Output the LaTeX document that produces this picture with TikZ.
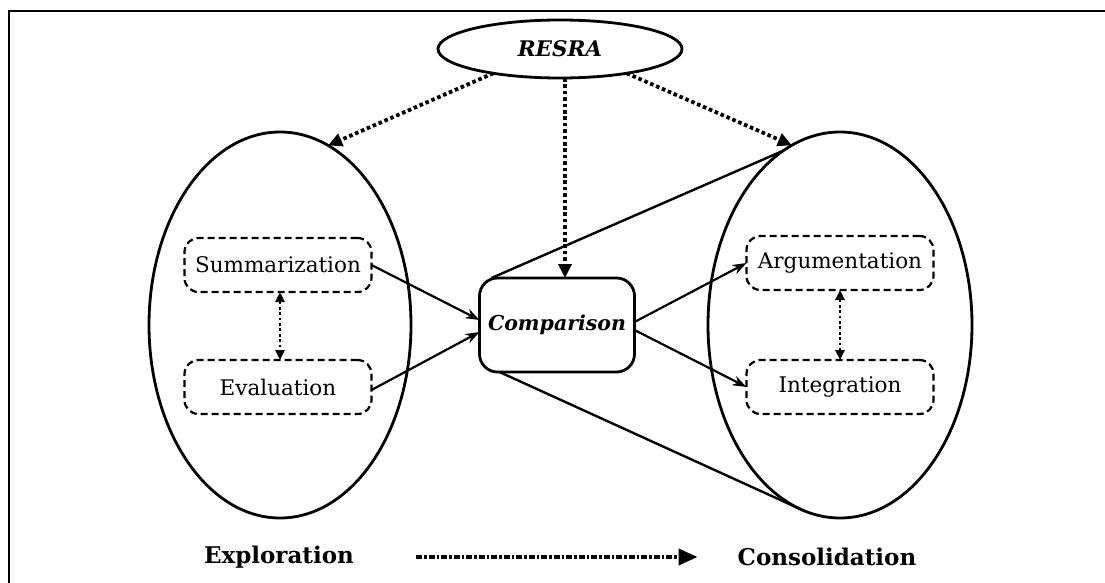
\documentclass[tikz,border=0pt]{standalone}
\usepackage{fontspec}
\setmainfont{DejaVu Serif}
\usetikzlibrary{arrows.meta,shapes.geometric}
\begin{document}
\begin{tikzpicture}[x=1pt,y=-1pt,
  bigell/.style={draw,line width=2.8pt,ellipse,minimum width=262pt,minimum height=386pt,inner sep=0pt,outer sep=0pt},
  topell/.style={draw,line width=2.8pt,ellipse,minimum width=244pt,minimum height=58pt,inner sep=0pt,outer sep=0pt,font=\fontsize{21.5}{24}\selectfont\bfseries\itshape},
  subbox/.style={draw,dash pattern=on 7pt off 4pt,line width=2.2pt,rounded corners=14pt,minimum width=187pt,minimum height=54pt,inner sep=0pt,outer sep=0pt,font=\fontsize{21.5}{24}\selectfont},
  cmpbox/.style={draw,line width=2.8pt,rounded corners=18pt,minimum width=155pt,minimum height=94pt,inner sep=0pt,outer sep=0pt,font=\fontsize{20.5}{24}\selectfont\bfseries\itshape},
  lbl/.style={inner sep=0pt,font=\fontsize{23}{26}\selectfont\bfseries},
  solidarr/.style={line width=2.2pt,-{Stealth[length=14pt,width=10pt]}},
  dotarr/.style={line width=3.8pt,dash pattern=on 3.6pt off 2.8pt,-{Triangle[length=14pt,width=13pt]}},
  vdot/.style={line width=2.6pt,dash pattern=on 2.8pt off 2.6pt,{Triangle[length=10pt,width=9pt]}-{Triangle[length=10pt,width=9pt]}},
  bigarr/.style={line width=3.8pt,dash pattern=on 6pt off 2pt on 2.5pt off 2pt,-{Triangle[length=19pt,width=16pt]}},
  tline/.style={line width=2.4pt},
  frame/.style={line width=2.8pt}
]
\useasboundingbox (0,0) rectangle (1105,583);
\draw[frame] (9,583) -- (9,11) -- (1105,11);

\node[topell] (resra) at (560,49) {RESRA};
\node[bigell] (expl) at (280,325) {};
\node[bigell,minimum width=264pt] (cons) at (840,325) {};
\node[subbox] (sum) at (278,265) {Summarization};
\node[subbox] (eval) at (278,387) {Evaluation};
\node[subbox] (arg) at (840,263) {Argumentation};
\node[subbox] (int) at (840,387) {Integration};
\node[cmpbox] (cmp) at (557,325) {Comparison};

\node[lbl] (lexp) at (279,557) {Exploration};
\node[lbl] (lcon) at (827,557) {Consolidation};

% tangent lines
\draw[tline] ([xshift=12pt]cmp.north west) -- (cons.108);
\draw[tline] ([xshift=20pt]cmp.south west) -- (cons.258);

% solid arrows
\draw[solidarr] (sum.east) -- ([yshift=5pt]cmp.west);
\draw[solidarr] ([yshift=-3pt]eval.east) -- ([yshift=-7pt]cmp.west);
\draw[solidarr] ([yshift=3pt]cmp.east) -- (arg.west);
\draw[solidarr] ([yshift=-5pt]cmp.east) -- (int.west);

% dotted arrows
\draw[dotarr] (resra.200) -- (expl.75);
\draw[dotarr] (resra.-20) -- (cons.105);
\draw[dotarr] ([xshift=8pt]cmp.north |- resra.south) -- ([xshift=8pt]cmp.north);
\draw[vdot] ([xshift=2pt]sum.south) -- ([xshift=2pt]eval.north);
\draw[vdot] (arg.south) -- (int.north);

\draw[bigarr] ([xshift=62pt]lexp.east) -- ([xshift=-40pt]lcon.west);
\end{tikzpicture}
\end{document}
